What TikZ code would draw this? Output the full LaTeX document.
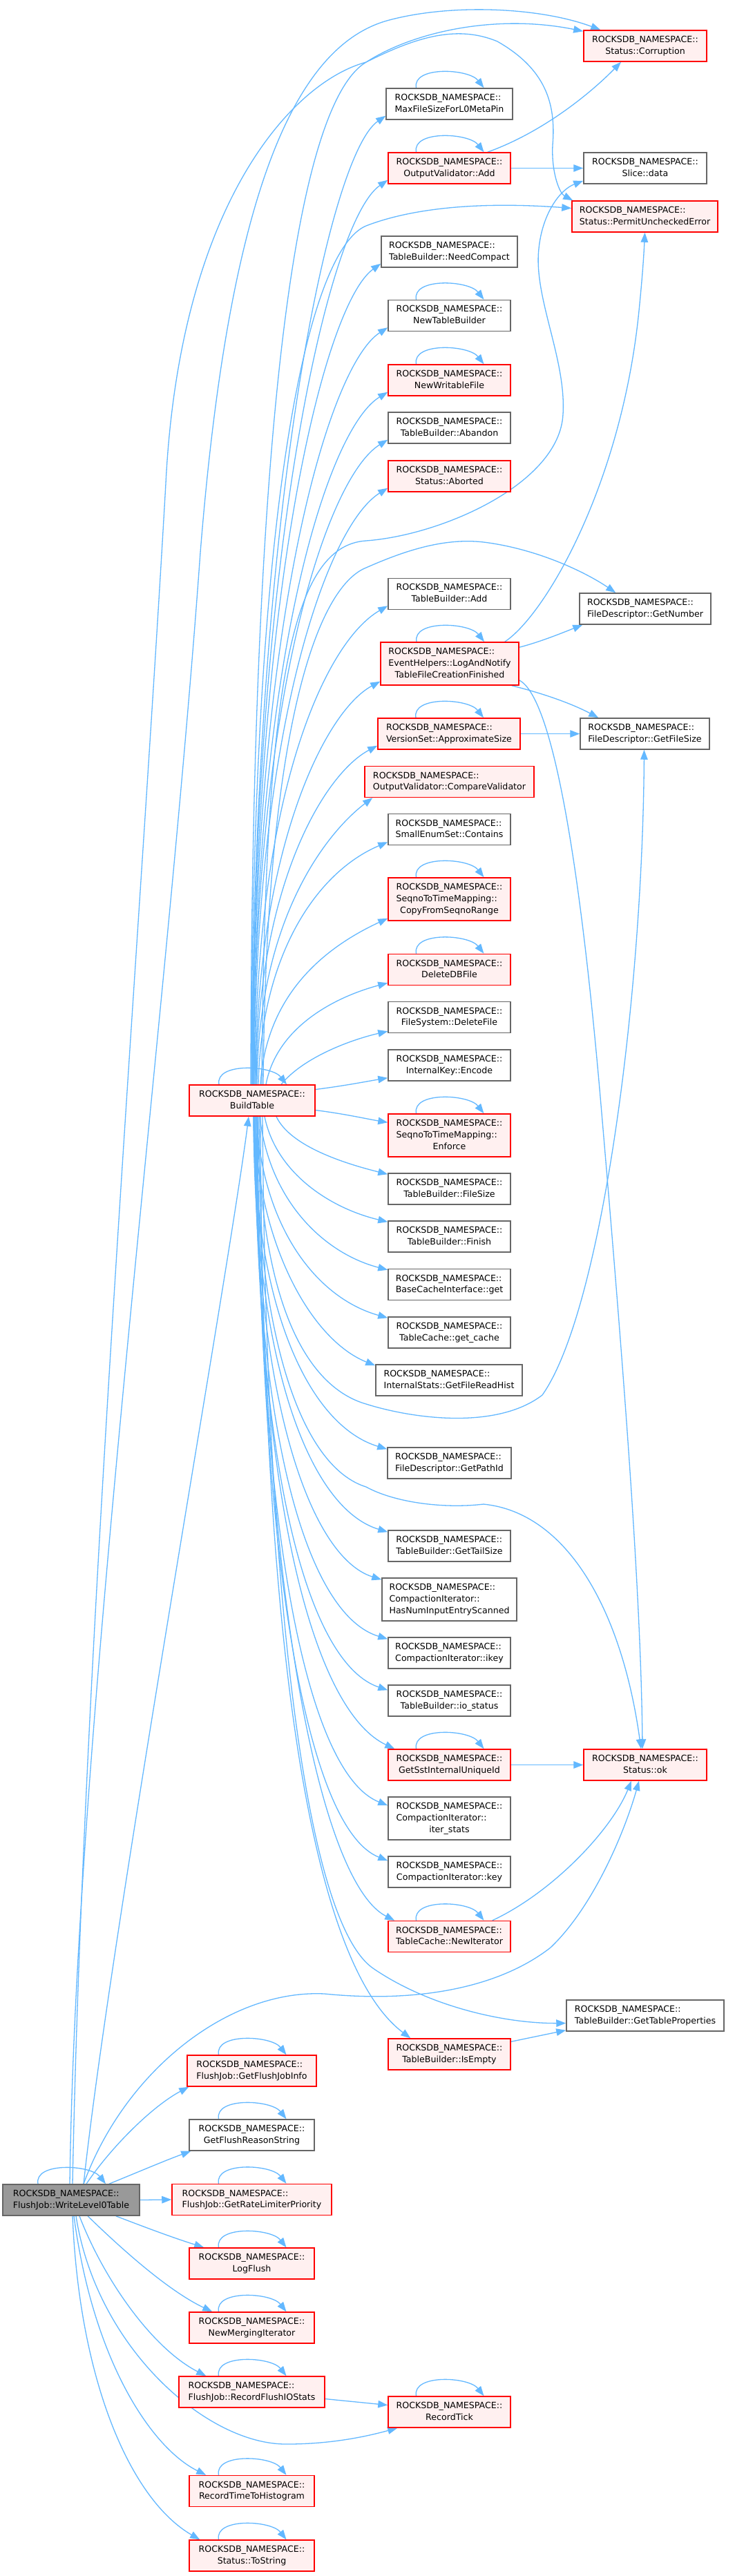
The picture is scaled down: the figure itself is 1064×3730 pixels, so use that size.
\documentclass[tikz,border=0pt]{standalone}
\usepackage{fontspec}
\setmainfont{DejaVu Sans}
\usetikzlibrary{arrows.meta,calc,backgrounds}
\definecolor{edgec}{HTML}{63B8FF}
\definecolor{redfill}{HTML}{FFF0F0}
\definecolor{grayb}{HTML}{666666}
\definecolor{rootfill}{HTML}{999999}
\newcommand\lbltwo[2]{\begin{tabular}{@{}c@{}}\multicolumn{1}{@{}l@{}}{#1}\\#2\end{tabular}}
\newcommand\lblthree[3]{\begin{tabular}{@{}c@{}}\multicolumn{1}{@{}l@{}}{#1}\\\multicolumn{1}{@{}l@{}}{#2}\\#3\end{tabular}}
\newcommand\RN{ROCKSDB\_NAMESPACE::}
\newcommand\selfloop[1]{\draw[cedge] ($(#1.north)+(-48,0)$) .. controls +(-6,-32) and +(-22,-28) .. ($(#1.north)+(50,0)$);}
\tikzset{
 nd/.style={draw=grayb, fill=white, line width=1.5pt, rectangle, inner sep=0pt, minimum height=45pt, minimum width=177pt, font=\fontsize{12.6}{16.7}\selectfont, text=black},
 rd/.style={nd, draw=red, fill=redfill},
 rootnd/.style={nd, draw=grayb, fill=rootfill},
 cedge/.style={draw=edgec, line width=1.3pt, -{Triangle[length=14pt,width=10.5pt]}},
}
\begin{document}
\begin{tikzpicture}[x=1pt,y=-1pt]
\useasboundingbox (0,0) rectangle (1064,3730);
% column 1
\node[rootnd, minimum width=198pt] (W) at (103,3185.5) {\lbltwo{\RN}{FlushJob::WriteLevel0Table}};
% column 2
\node[rd, minimum width=182pt] (B) at (365,1593.5) {\lbltwo{\RN}{BuildTable}};
\node[rd, minimum width=187pt] (FJI) at (364.5,2998.5) {\lbltwo{\RN}{FlushJob::GetFlushJobInfo}};
\node[nd, minimum width=181pt] (FRS) at (364.5,3091.5) {\lbltwo{\RN}{GetFlushReasonString}};
\node[rd, minimum width=231pt] (RLP) at (364.5,3185) {\lbltwo{\RN}{FlushJob::GetRateLimiterPriority}};
\node[rd, minimum width=181pt] (LF) at (364.5,3277.5) {\lbltwo{\RN}{LogFlush}};
\node[rd, minimum width=181pt] (NMI) at (364.5,3370.5) {\lbltwo{\RN}{NewMergingIterator}};
\node[rd, minimum width=211pt] (RFS) at (364.5,3463.5) {\lbltwo{\RN}{FlushJob::RecordFlushIOStats}};
\node[rd, minimum width=181pt] (RTH) at (364.5,3607) {\lbltwo{\RN}{RecordTimeToHistogram}};
\node[rd, minimum width=181pt] (TS) at (364.5,3700.5) {\lbltwo{\RN}{Status::ToString}};
% column 3
\node[nd, minimum width=183pt] (MFS) at (650.5,150.5) {\lbltwo{\RN}{MaxFileSizeForL0MetaPin}};
\node[rd] (OVA) at (650.5,243.5) {\lbltwo{\RN}{OutputValidator::Add}};
\node[nd, minimum width=197pt] (NC) at (650.5,364.5) {\lbltwo{\RN}{TableBuilder::NeedCompact}};
\node[nd] (NTB) at (650.5,457) {\lbltwo{\RN}{NewTableBuilder}};
\node[rd] (NWF) at (650.5,550.5) {\lbltwo{\RN}{NewWritableFile}};
\node[nd] (AB) at (650.5,619.5) {\lbltwo{\RN}{TableBuilder::Abandon}};
\node[rd] (ABT) at (650.5,689.5) {\lbltwo{\RN}{Status::Aborted}};
\node[nd] (TBA) at (650.5,860) {\lbltwo{\RN}{TableBuilder::Add}};
\node[rd, minimum width=200pt, minimum height=62pt] (LNF) at (651,961) {\lblthree{\RN}{EventHelpers::LogAndNotify}{TableFileCreationFinished}};
\node[rd, minimum width=206pt] (AS) at (650,1062.5) {\lbltwo{\RN}{VersionSet::ApproximateSize}};
\node[rd, minimum width=245pt] (CV) at (650.5,1132) {\lbltwo{\RN}{OutputValidator::CompareValidator}};
\node[nd] (SEC) at (650.5,1201) {\lbltwo{\RN}{SmallEnumSet::Contains}};
\node[rd, minimum height=62pt] (CFS) at (650.5,1302) {\lblthree{\RN}{SeqnoToTimeMapping::}{CopyFromSeqnoRange}};
\node[rd] (DDB) at (650.5,1404) {\lbltwo{\RN}{DeleteDBFile}};
\node[nd] (FDF) at (650.5,1473) {\lbltwo{\RN}{FileSystem::DeleteFile}};
\node[nd] (IKE) at (650.5,1542.5) {\lbltwo{\RN}{InternalKey::Encode}};
\node[rd, minimum height=62pt] (ENF) at (650.5,1644) {\lblthree{\RN}{SeqnoToTimeMapping::}{Enforce}};
\node[nd] (FS) at (650.5,1721.5) {\lbltwo{\RN}{TableBuilder::FileSize}};
\node[nd] (FIN) at (650.5,1790.5) {\lbltwo{\RN}{TableBuilder::Finish}};
\node[nd] (BCG) at (650.5,1860) {\lbltwo{\RN}{BaseCacheInterface::get}};
\node[nd] (GC) at (650.5,1929.5) {\lbltwo{\RN}{TableCache::get\_cache}};
\node[nd, minimum width=212pt] (FRH) at (650,1998.5) {\lbltwo{\RN}{InternalStats::GetFileReadHist}};
\node[nd, minimum width=179pt] (GPI) at (650.5,2118.5) {\lbltwo{\RN}{FileDescriptor::GetPathId}};
\node[nd] (GTS) at (650.5,2238.5) {\lbltwo{\RN}{TableBuilder::GetTailSize}};
\node[nd, minimum width=195pt, minimum height=62pt] (HNI) at (650.5,2316) {\lblthree{\RN}{CompactionIterator::}{HasNumInputEntryScanned}};
\node[nd] (IK) at (650.5,2393.5) {\lbltwo{\RN}{CompactionIterator::ikey}};
\node[nd] (IOS) at (650.5,2462.5) {\lbltwo{\RN}{TableBuilder::io\_status}};
\node[rd] (GSU) at (650.5,2555.5) {\lbltwo{\RN}{GetSstInternalUniqueId}};
\node[nd, minimum height=62pt] (IST) at (650.5,2633) {\lblthree{\RN}{CompactionIterator::}{iter\_stats}};
\node[nd] (CK) at (650.5,2710.5) {\lbltwo{\RN}{CompactionIterator::key}};
\node[rd] (TNI) at (650.5,2804) {\lbltwo{\RN}{TableCache::NewIterator}};
\node[rd] (IE) at (650.5,2974.5) {\lbltwo{\RN}{TableBuilder::IsEmpty}};
\node[rd] (RT) at (650.5,3492.5) {\lbltwo{\RN}{RecordTick}};
% column 4
\node[rd, minimum width=178pt] (CORR) at (934,66.5) {\lbltwo{\RN}{Status::Corruption}};
\node[nd, minimum width=178pt] (SD) at (934,243.5) {\lbltwo{\RN}{Slice::data}};
\node[rd, minimum width=211pt] (PUE) at (933.5,313.5) {\lbltwo{\RN}{Status::PermitUncheckedError}};
\node[nd, minimum width=190pt] (GN) at (934,881.5) {\lbltwo{\RN}{FileDescriptor::GetNumber}};
\node[nd, minimum width=187pt] (GFS) at (933.5,1062.5) {\lbltwo{\RN}{FileDescriptor::GetFileSize}};
\node[rd, minimum width=178pt] (OK) at (934,2555.5) {\lbltwo{\RN}{Status::ok}};
\node[nd, minimum width=228pt] (GTP) at (934,2918.5) {\lbltwo{\RN}{TableBuilder::GetTableProperties}};

\begin{scope}[on background layer]
\fill[white] (0,0) rectangle (1064,3730);
% self loops
\foreach \n in {W,B,FJI,FRS,RLP,LF,NMI,RFS,RTH,TS,MFS,OVA,NTB,NWF,LNF,AS,CFS,DDB,ENF,GSU,TNI,RT}{\selfloop{\n}}
% W edges
\draw[cedge] ($(W.north)+(18,0)$) .. controls (160,2800) and (330,1850) .. ($(B.south)+(-5,0)$);
\draw[cedge] ($(W.north)+(-2,0)$) .. controls (110,2500) and (240,1500) .. (290,800) .. controls (330,300) and (420,70) .. (560,30) .. controls (650,5) and (780,10) .. ($(CORR.north west)+(25,0)$);
\draw[cedge] ($(W.north)+(2,0)$) .. controls (120,2400) and (200,1400) .. (240,700) .. controls (260,300) and (420,120) .. (530,90) .. controls (600,55) and (660,35) .. (720,60) .. controls (790,100) and (805,150) .. (800,210) .. controls (798,250) and (810,280) .. ($(PUE.north west)+(2,0)$);
\draw[cedge] ($(W.north)+(22,0)$) .. controls (160,3110) and (220,3050) .. ($(FJI.south west)+(3,0)$);
\draw[cedge] ($(W.north east)+(-45,0)$) .. controls (200,3145) and (240,3128) .. ($(FRS.south west)+(3,0)$);
\draw[cedge] (W.east) -- (RLP.west);
\draw[cedge] ($(W.south east)+(-35,0)$) .. controls (210,3225) and (250,3240) .. ($(LF.north west)+(22,0)$);
\draw[cedge] ($(W.south)+(24,0)$) .. controls (190,3270) and (250,3320) .. ($(NMI.north west)+(34,0)$);
\draw[cedge] ($(W.south)+(12,0)$) .. controls (150,3300) and (220,3400) .. ($(RFS.north west)+(40,0)$);
\draw[cedge] ($(W.south)+(7,0)$) .. controls (140,3400) and (300,3540) .. (415,3539) .. controls (480,3539) and (530,3528) .. ($(RT.south west)+(14,0)$);
\draw[cedge] ($(W.south)+(4,0)$) .. controls (135,3420) and (220,3545) .. ($(RTH.north west)+(25,0)$);
\draw[cedge] ($(W.south)+(2,0)$) .. controls (115,3450) and (190,3620) .. ($(TS.north west)+(16,0)$);
\draw[cedge] ($(W.north)+(18,0)$) .. controls (180,3000) and (330,2880) .. (470,2887) .. controls (600,2900) and (720,2880) .. (797,2820) .. controls (860,2760) and (905,2650) .. ($(OK.south)+(-9,0)$);
% B upward edges
\draw[cedge] ($(B.north)+(-2,0)$) .. controls (364,600) and (430,150) .. (530,90) .. controls (600,45) and (720,20) .. ($(CORR.north west)+(0,2)$);
\draw[cedge] ($(B.north)+(-1,0)$) .. controls (364,700) and (450,360) .. (530,327) .. controls (600,300) and (700,292) .. ($(PUE.west)+(0,-12)$);
\draw[cedge] ($(B.north)+(14,0)$) .. controls (383,1000) and (420,790) .. (530,783) .. controls (640,775) and (810,700) .. (815,600) .. controls (820,520) and (772,430) .. (780,360) .. controls (785,310) and (810,275) .. ($(SD.south west)+(0,-5)$);
\draw[cedge] ($(B.north)+(16,0)$) .. controls (385,1050) and (460,850) .. (530,822) .. controls (580,800) and (640,778) .. (700,785) .. controls (780,795) and (850,830) .. ($(GN.north west)+(53,0)$);
\draw[cedge] (B.north) .. controls (365,750) and (475,225) .. ($(MFS.south west)+(0,-6)$);
\draw[cedge] (B.north) .. controls (365,800) and (475,320) .. ($(OVA.south west)+(0,-6)$);
\draw[cedge] ($(B.north)+(1,0)$) .. controls (366,850) and (470,440) .. ($(NC.south west)+(0,-6)$);
\draw[cedge] ($(B.north)+(1,0)$) .. controls (366,900) and (475,530) .. ($(NTB.south west)+(0,-6)$);
\draw[cedge] ($(B.north)+(2,0)$) .. controls (367,950) and (475,620) .. ($(NWF.south west)+(0,-6)$);
\draw[cedge] ($(B.north)+(2,0)$) .. controls (368,1000) and (475,690) .. ($(AB.south west)+(0,-6)$);
\draw[cedge] ($(B.north)+(3,0)$) .. controls (369,1050) and (475,760) .. ($(ABT.south west)+(0,-6)$);
\draw[cedge] ($(B.north)+(4,0)$) .. controls (370,1150) and (470,930) .. ($(TBA.south west)+(0,-6)$);
\draw[cedge] ($(B.north)+(5,0)$) .. controls (371,1230) and (470,1030) .. ($(LNF.south west)+(0,-6)$);
\draw[cedge] ($(B.north)+(6,0)$) .. controls (372,1280) and (470,1120) .. ($(AS.south west)+(0,-6)$);
\draw[cedge] ($(B.north)+(7,0)$) .. controls (374,1320) and (480,1200) .. ($(CV.south west)+(12,0)$);
\draw[cedge] ($(B.north)+(9,0)$) .. controls (378,1380) and (460,1262) .. ($(SEC.south west)+(0,-5)$);
\draw[cedge] ($(B.north)+(12,0)$) .. controls (385,1440) and (470,1372) .. ($(CFS.south west)+(0,-4)$);
\draw[cedge] ($(B.north)+(20,0)$) .. controls (400,1490) and (480,1445) .. ($(DDB.south west)+(0,-4)$);
\draw[cedge] ($(B.north)+(42,0)$) .. controls (440,1530) and (510,1505) .. ($(FDF.south west)+(0,-3)$);
\draw[cedge] ($(B.east)+(0,-16)$) .. controls (500,1572) and (530,1566) .. ($(IKE.south west)+(0,-5)$);
% B downward edges
\draw[cedge] ($(B.east)+(0,14)$) .. controls (500,1613) and (530,1620) .. ($(ENF.north west)+(0,13)$);
\draw[cedge] ($(B.south)+(35,0)$) .. controls (420,1660) and (500,1685) .. ($(FS.north west)+(0,2)$);
\draw[cedge] ($(B.south)+(18,0)$) .. controls (400,1700) and (480,1750) .. ($(FIN.north west)+(0,2)$);
\draw[cedge] ($(B.south)+(11,0)$) .. controls (390,1740) and (470,1815) .. ($(BCG.north west)+(0,2)$);
\draw[cedge] ($(B.south)+(6,0)$) .. controls (380,1780) and (460,1880) .. ($(GC.north west)+(0,2)$);
\draw[cedge] ($(B.south)+(3,0)$) .. controls (372,1800) and (450,1940) .. ($(FRH.north west)+(0,2)$);
\draw[cedge] ($(B.south)+(2,0)$) .. controls (368,1900) and (450,2065) .. ($(GPI.north west)+(0,3)$);
\draw[cedge] ($(B.south)+(2,0)$) .. controls (368,1980) and (450,2185) .. ($(GTS.north west)+(0,3)$);
\draw[cedge] ($(B.south)+(3,0)$) .. controls (368,2030) and (450,2255) .. ($(HNI.north west)+(0,3)$);
\draw[cedge] ($(B.south)+(4,0)$) .. controls (369,2100) and (450,2340) .. ($(IK.north west)+(0,3)$);
\draw[cedge] ($(B.south)+(5,0)$) .. controls (370,2150) and (450,2410) .. ($(IOS.north west)+(0,8)$);
\draw[cedge] ($(B.south)+(6,0)$) .. controls (372,2200) and (460,2480) .. ($(GSU.north west)+(10,0)$);
\draw[cedge] ($(B.south)+(7,0)$) .. controls (374,2250) and (450,2570) .. ($(IST.north west)+(0,13)$);
\draw[cedge] ($(B.south)+(8,0)$) .. controls (376,2300) and (450,2650) .. ($(CK.north west)+(0,7)$);
\draw[cedge] ($(B.south)+(10,0)$) .. controls (378,2350) and (470,2730) .. ($(TNI.north west)+(10,0)$);
\draw[cedge] ($(B.south)+(12,0)$) .. controls (380,2450) and (460,2850) .. ($(IE.north west)+(33,0)$);
\draw[cedge] ($(B.south)+(15,0)$) .. controls (385,2300) and (440,2780) .. (540,2850) .. controls (620,2905) and (730,2930) .. ($(GTP.west)+(0,11)$);
\draw[cedge] ($(B.south)+(8,0)$) .. controls (376,1900) and (450,2010) .. (530,2033) .. controls (600,2055) and (720,2070) .. (785,2020) .. controls (870,1900) and (930,1450) .. ($(GFS.south)+(-1,0)$);
\draw[cedge] ($(B.south)+(4,0)$) .. controls (372,1950) and (440,2125) .. (530,2153) .. controls (570,2175) and (640,2185) .. (700,2178) .. controls (820,2190) and (900,2330) .. ($(OK.north)+(-6,0)$);
% column 3 -> column 4
\draw[cedge] (OVA.east) -- (SD.west);
\draw[cedge] ($(OVA.north east)+(-34,0)$) .. controls (790,190) and (860,130) .. ($(CORR.south)+(-35,0)$);
\draw[cedge] ($(LNF.north east)+(0,8)$) .. controls (780,930) and (810,918) .. ($(GN.south west)+(5,0)$);
\draw[cedge] ($(LNF.south east)+(-11,0)$) .. controls (790,1005) and (830,1020) .. ($(GFS.north west)+(27,0)$);
\draw[cedge] ($(LNF.north east)+(-21,0)$) .. controls (790,890) and (900,700) .. (925,450) .. controls (930,400) and (932,370) .. (PUE.south);
\draw[cedge] ($(LNF.east)+(0,24)$) .. controls (800,1010) and (840,1250) .. (870,1600) .. controls (900,1950) and (928,2300) .. ($(OK.north)+(-4,0)$);
\draw[cedge] (AS.east) -- (GFS.west);
\draw[cedge] (GSU.east) -- (OK.west);
\draw[cedge] ($(TNI.north east)+(-27,0)$) .. controls (800,2740) and (885,2650) .. ($(OK.south)+(-20,0)$);
\draw[cedge] ($(IE.north east)+(0,5)$) -- ($(GTP.south west)+(0,-2)$);
\draw[cedge] ($(RFS.east)+(0,10)$) -- ($(RT.west)+(0,-10)$);
\end{scope}
\end{tikzpicture}
\end{document}
